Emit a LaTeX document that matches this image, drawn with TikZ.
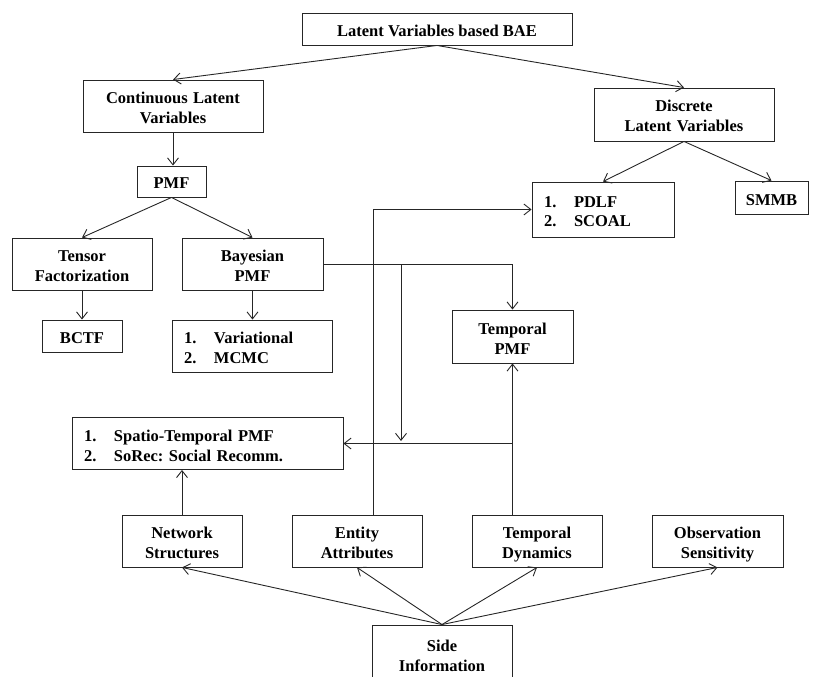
\documentclass[tikz,border=0pt]{standalone}
\usepackage{fontspec}
\setmainfont{Liberation Serif}
\usepackage{tikz}
\usetikzlibrary{arrows.meta,positioning,calc}
\frenchspacing
\newcommand{\topstrut}{\rule{0pt}{20pt}}
\newcommand{\botstrut}{\rule[-5pt]{0pt}{5pt}}
\tikzset{
  box/.style    ={draw=black!85,line width=0.9pt,inner sep=0pt,align=center,
                  font=\fontsize{16.5}{20}\selectfont\bfseries,
                  execute at begin node=\topstrut,execute at end node=\botstrut},
  listbox/.style={box,align=left,inner xsep=12pt},
  arr/.style    ={draw=black!85,line width=0.9pt,-{Straight Barb[length=7pt,width=11pt]}},
}
\newcommand{\twoitems}[2]{\makebox[30pt][l]{1.}#1\\\makebox[30pt][l]{2.}#2}
\begin{document}
\begin{tikzpicture}[x=1pt,y=-1pt]
  \useasboundingbox (0,0) rectangle (815,677);
  % top levels
  \node[box,minimum width=270pt,minimum height=32pt](top) at (437,29){Latent Variables based BAE};
  \node[box,text width=180pt,minimum height=52pt](cont) at (173,106){Continuous Latent\\Variables};
  \node[box,text width=180pt,minimum height=53pt](disc) at (684,114.5){Discrete\\Latent Variables};
  \node[box,minimum width=69pt,minimum height=31pt](pmf) at (171.5,181.5){PMF};
  \node[listbox,text width=118pt,minimum height=55pt](pdlf) at (603,209.5){\twoitems{PDLF}{SCOAL}};
  \node[box,minimum width=73pt,minimum height=33pt](smmb) at (771.5,197.5){SMMB};
  % PMF family
  \node[box,text width=140pt,minimum height=52pt](tensor) at (82,264){Tensor\\Factorization};
  \node[box,text width=141pt,minimum height=52pt](bpmf) at (252.5,264){Bayesian\\PMF};
  \node[box,minimum width=80pt,minimum height=32pt](bctf) at (82,336){BCTF};
  \node[listbox,text width=136pt,minimum height=52pt](vari) at (252,346){\twoitems{Variational}{MCMC}};
  \node[box,text width=121pt,minimum height=53pt](tpmf) at (512.5,336.5){Temporal\\PMF};
  \node[listbox,text width=247pt,minimum height=52pt](stpmf) at (207.5,443.5){\twoitems{Spatio-Temporal PMF}{SoRec: Social Recomm.}};
  % side information
  \node[box,text width=120pt,minimum height=52pt](netw) at (182,541){Network\\Structures};
  \node[box,text width=130pt,minimum height=52pt](entity) at (357,541){Entity\\Attributes};
  \node[box,text width=130pt,minimum height=52pt](tdyn) at (537,541){Temporal\\Dynamics};
  \node[box,text width=131pt,minimum height=52pt](obs) at (717.5,541){Observation\\Sensitivity};
  \node[box,text width=140pt,minimum height=58pt](side) at (442,654){Side\\Information};
  % helper points
  \coordinate (bsplit) at (401,265);
  \coordinate (stjoin) at (401,441);
  \coordinate (entx) at ([xshift=16pt]entity.north);
  % connectors
  \draw[arr](top.south)--(cont.north);
  \draw[arr](top.south)--(disc.north);
  \draw[arr](cont.south)--(cont.south |- pmf.north);
  \draw[arr](disc.south)--(pdlf.north);
  \draw[arr](disc.south)--(smmb.north);
  \draw[arr](pmf.south)--(tensor.north);
  \draw[arr](pmf.south)--(bpmf.north);
  \draw[arr](tensor.south)--(bctf.north);
  \draw[arr](bpmf.south)--(bpmf.south |- vari.north);
  \draw[arr](bpmf.east)-|(tpmf.north);
  \draw[arr](bsplit)--(stjoin);
  \draw[arr](entx)|-(pdlf.west);
  \draw[arr](tpmf.south |- tdyn.north)--(tpmf.south);
  \draw[arr](tpmf.south |- stpmf.east)--(stpmf.east);
  \draw[arr](netw.north)--(netw.north |- stpmf.south);
  \foreach \n in {netw,entity,tdyn,obs}{\draw[arr](side.north)--(\n.south);}
\end{tikzpicture}
\end{document}
